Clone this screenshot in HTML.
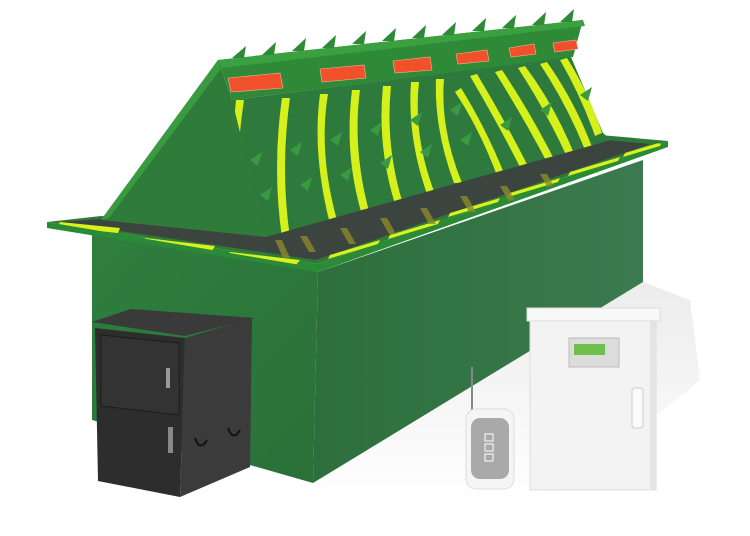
<!DOCTYPE html>
<html><head><meta charset="utf-8"><style>html,body{margin:0;padding:0;background:#fff}svg{display:block}</style></head>
<body>
<svg width="750" height="536" viewBox="0 0 750 536" xmlns="http://www.w3.org/2000/svg">
<defs>
<linearGradient id="lf" x1="0" y1="0" x2="1" y2="1"><stop offset="0" stop-color="#2f7f3e"/><stop offset="1" stop-color="#2a7038"/></linearGradient>
<linearGradient id="rf" x1="0" y1="0" x2="1" y2="0"><stop offset="0" stop-color="#2d6f3c"/><stop offset="1" stop-color="#3b7a4e"/></linearGradient>
<linearGradient id="sh" x1="0" y1="0" x2="0" y2="1"><stop offset="0" stop-color="#ececec"/><stop offset="1" stop-color="#fff"/></linearGradient>
<clipPath id="face"><polygon points="232,100 571,57 603,133 611,140 266,237"/></clipPath>
<clipPath id="plate"><polygon points="47,222 318,268 668,145 640,140 266,233 101,218"/></clipPath>
</defs>
<!-- shadow -->
<polygon points="313,483 643,282 690,300 700,380 560,495 380,505" fill="url(#sh)"/>
<!-- body -->
<polygon points="92,230 318,272 313,483 92,420" fill="url(#lf)"/>
<polygon points="318,272 643,160 643,282 313,483" fill="url(#rf)"/>
<!-- plate -->
<polygon points="47,222 318,264 668,141 668,147 318,272 47,228" fill="#2b8a35"/>
<polygon points="47,222 318,264 668,141 600,135 266,230 101,216" fill="#2f7a38"/>
<polygon points="60,222 316,260 650,144 606,140 266,234 101,219" fill="#3c4440"/>
<g clip-path="url(#plate)" fill="#d8f21e">
<polygon points="60,222 120,228 118,233 58,227"/>
<polygon points="145,238 215,246 212,251 142,243"/>
<polygon points="230,252 300,260 296,265 226,257"/>
<polygon points="330,255 380,240 378,244 328,259"/>
<polygon points="390,235 440,220 438,224 388,239"/>
<polygon points="450,213 500,198 498,202 448,217"/>
<polygon points="510,193 560,178 558,182 508,197"/>
<polygon points="570,172 620,157 618,161 568,176"/>
<polygon points="625,153 662,142 660,146 623,157"/>
</g>
<g clip-path="url(#plate)" fill="#8a8a2a" opacity="0.8">
<polygon points="275,240 282,240 290,258 283,258"/><polygon points="300,236 307,236 316,252 309,252"/>
<polygon points="340,228 347,228 356,244 349,244"/><polygon points="380,218 387,218 396,234 389,234"/>
<polygon points="420,208 427,208 436,224 429,224"/><polygon points="460,196 467,196 476,212 469,212"/>
<polygon points="500,186 507,186 516,202 509,202"/><polygon points="540,174 547,174 556,190 549,190"/>
</g>
<!-- wedge left end -->
<polygon points="218,60 232,100 266,100 266,237 101,220" fill="#2f7b3a"/>
<polygon points="218,60 226,62 109,218 101,220" fill="#3a9a40"/>
<!-- ridge band -->
<polygon points="218,60 583,20 573,57 232,100" fill="#2f8a38"/>
<polygon points="218,60 583,20 585,26 222,68" fill="#3aa040"/>
<!-- front face -->
<polygon points="232,100 571,57 603,133 611,140 266,237" fill="#2e7a3c"/>
<g clip-path="url(#face)" fill="#d6f01c">
<path d="M236,100 l8,0 q-6,40 -6,70 l-6,0 q0,-30 4,-70z"/>
<path d="M282,98 l8,0 q-10,70 0,140 l-8,0 q-10,-70 0,-140z"/>
<path d="M320,94 l8,0 q-10,60 10,130 l-8,0 q-18,-70 -10,-130z"/>
<path d="M352,90 l8,0 q-8,60 10,125 l-8,0 q-18,-60 -10,-125z"/>
<path d="M383,86 l8,0 q-6,60 12,118 l-8,0 q-18,-58 -12,-118z"/>
<path d="M411,82 l8,0 q-6,55 16,112 l-8,0 q-20,-57 -16,-112z"/>
<path d="M436,79 l8,0 q-4,50 18,104 l-8,0 q-20,-54 -18,-104z"/>
<path d="M455,92 l6,-4 q25,40 45,90 l-7,3 q-18,-50 -44,-89z"/>
<path d="M470,76 l7,-2 q30,50 55,100 l-7,3 q-25,-50 -55,-101z"/>
<path d="M495,72 l7,-2 q30,45 55,95 l-7,3 q-25,-48 -55,-96z"/>
<path d="M518,68 l7,-2 q30,40 50,90 l-7,3 q-22,-48 -50,-91z"/>
<path d="M540,64 l7,-2 q28,40 45,85 l-7,3 q-18,-45 -45,-86z"/>
<path d="M560,60 l7,-2 q22,35 35,75 l-7,3 q-14,-40 -35,-76z"/>
</g>
<!-- spikes on face -->
<g fill="#3a9a42">
<polygon points="250,160 262,152 258,166"/><polygon points="290,150 302,142 298,156"/><polygon points="330,140 342,132 338,146"/>
<polygon points="370,130 382,122 378,136"/><polygon points="410,120 422,112 418,126"/><polygon points="450,110 462,102 458,116"/>
<polygon points="260,195 272,187 268,201"/><polygon points="300,185 312,177 308,191"/><polygon points="340,175 352,167 348,181"/>
<polygon points="380,163 392,155 388,169"/><polygon points="420,152 432,144 428,158"/><polygon points="460,140 472,132 468,146"/>
<polygon points="500,125 512,117 508,131"/><polygon points="540,110 552,102 548,116"/><polygon points="580,95 592,87 588,101"/>
</g>
<!-- top spikes -->
<g fill="#2f8a38">
<polygon points="232,58 246,46 244,58"/><polygon points="262,55 276,42 274,55"/><polygon points="292,51 306,38 304,51"/>
<polygon points="322,48 336,35 334,48"/><polygon points="352,44 366,31 364,44"/><polygon points="382,41 396,28 394,41"/>
<polygon points="412,38 426,25 424,38"/><polygon points="442,35 456,22 454,35"/><polygon points="472,31 486,18 484,31"/>
<polygon points="502,28 516,15 514,28"/><polygon points="532,25 546,12 544,25"/><polygon points="560,22 574,9 572,22"/>
</g>
<!-- red lights -->
<g fill="#f0502a" stroke="#ffb0a0" stroke-width="0.6">
<polygon points="228,78 280,73 283,88 231,92"/>
<polygon points="320,69 364,65 366,78 322,82"/>
<polygon points="393,61 430,57 432,70 395,73"/>
<polygon points="456,54 487,50 489,61 458,64"/>
<polygon points="509,48 534,44 536,54 511,57"/>
<polygon points="553,43 576,40 578,49 555,52"/>
</g>
<!-- black cabinet -->
<polygon points="92,322 131,309 255,318 185,336" fill="#3a3a3a"/>
<polygon points="95,328 185,338 180,497 98,481" fill="#2d2d2d"/>
<polygon points="185,338 252,318 250,467 180,497" fill="#3b3b3b"/>
<polygon points="101,335 179,343 179,415 101,406" fill="#333" stroke="#1c1c1c" stroke-width="1"/>
<rect x="166" y="368" width="4" height="20" fill="#999"/>
<rect x="168" y="427" width="5" height="26" fill="#888"/>
<path d="M195,438 q5,14 12,2" stroke="#111" stroke-width="2" fill="none"/>
<path d="M228,428 q5,14 12,2" stroke="#111" stroke-width="2" fill="none"/>
<!-- remote -->
<line x1="472" y1="367" x2="472" y2="412" stroke="#888" stroke-width="2"/>
<rect x="466" y="409" width="48" height="80" rx="10" fill="#f5f5f5" stroke="#ddd"/>
<rect x="471" y="418" width="38" height="61" rx="9" fill="#a9a9a9"/>
<g fill="none" stroke="#fff" stroke-width="1"><rect x="485" y="434" width="8" height="7"/><rect x="485" y="444" width="8" height="7"/><rect x="485" y="454" width="8" height="7"/></g>
<!-- white cabinet -->
<rect x="530" y="320" width="126" height="170" fill="#f3f3f3" stroke="#ddd"/>
<rect x="650" y="320" width="6" height="170" fill="#e4e4e4"/>
<rect x="527" y="308" width="133" height="13" fill="#f8f8f8" stroke="#ddd"/>
<rect x="569" y="338" width="50" height="29" fill="#dcdcdc" stroke="#bbb"/>
<rect x="574" y="344" width="31" height="11" fill="#6fc04a"/>
<rect x="632" y="388" width="11" height="40" rx="3" fill="#fafafa" stroke="#ccc"/>
</svg>
</body></html>
